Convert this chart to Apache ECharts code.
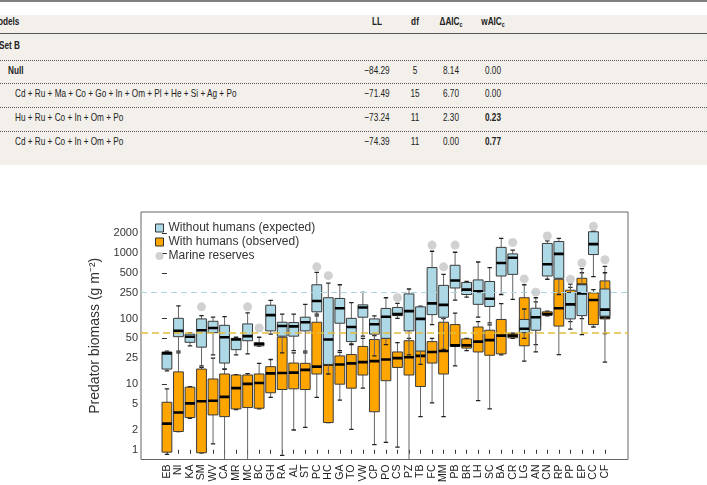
<!DOCTYPE html>
<html>
<head>
<meta charset="utf-8">
<script src="https://cdn.jsdelivr.net/npm/echarts@6/dist/echarts.min.js"></script>
<style>
  body { margin: 0; background: #fff; }
  #page { position: relative; width: 707px; height: 485px; overflow: hidden; }
  #tbl { position: absolute; left: 0; top: 0; width: 707px; height: 170px;
         font-family: "Liberation Sans", Arial, sans-serif;
         font-size: 11px; color: #222; }
  #tbl .bg { position: absolute; left: 0; top: 15px; width: 707px; height: 150px; background: #f3f0eb; }
  #tbl .topline { position: absolute; left: 0; top: 0; width: 707px; height: 2px; background: #808080; }
  #tbl .rule { position: absolute; left: 0; width: 707px; height: 0; border-top: 1.5px solid #555; }
  #tbl .dots { position: absolute; left: 0; width: 707px; height: 0; border-top: 1px dotted #555; }
  #tbl .t { position: absolute; white-space: nowrap; line-height: 12px; transform-origin: left center; }
  #tbl .c { position: absolute; white-space: nowrap; line-height: 12px; width: 40px; text-align: center; transform-origin: center center; }
  #tbl b { font-weight: bold; }
  #tbl sub { font-size: 7px; vertical-align: -2px; }
  #chart { position: absolute; left: 0; top: 0; width: 707px; height: 485px; }
</style>
</head>
<body>
<div id="page">
  <div id="chart"></div>
  <div id="tbl"></div>
</div>
<script>
// table rows (model, LL, df, dAICc, wAICc)
const tableRows = [
  ["Null", "−84.29", "5", "8.14", "0.00"],
  ["Cd + Ru + Ma + Co + Go + In + Om + Pl + He + Si + Ag + Po", "−71.49", "15", "6.70", "0.00"],
  ["Hu + Ru + Co + In + Om + Po", "−73.24", "11", "2.30", "0.23"],
  ["Cd + Ru + Co + In + Om + Po", "−74.39", "11", "0.00", "0.77"]
];
const boldWeights = ["0.23", "0.77"];

// sites along the x axis
const sites = ["EB", "NI", "KA", "SM", "WV", "CA", "MR", "MC", "BC", "GH", "RA", "AL", "ST",
  "PC", "HC", "GA", "TO", "VW", "CP", "PO", "CS", "PZ", "TB", "FC", "MM", "PB", "BR", "LH",
  "SC", "BA", "CR", "LG", "AN", "CN", "RP", "PP", "EP", "CC", "CF"];

// without humans (expected): [min, q1, median, q3, max]
const expected = [
  [16, 17, 29.5, 31, 32], [32, 53, 65, 101, 156], [38.5, 43.5, 53, 58, 61],
  [19, 36.7, 66.5, 99, 111], [28, 61, 72, 91, 105], [17, 21, 52, 79, 107],
  [28, 33.6, 48, 50, 52], [29, 46, 54, 83, 122], [38, 38.5, 41, 43, 52],
  [58, 65, 113, 160, 190], [30, 54, 77, 88, 117], [32.5, 54, 76, 87, 117],
  [32, 65, 88, 105, 165], [117, 127, 186, 328, 506], [14.3, 20, 48, 208, 347],
  [32.6, 85, 144, 203, 328], [41, 44.6, 74.5, 101, 175], [54, 105, 148, 162, 252],
  [27, 58, 82, 99, 110], [40, 50, 107, 143, 208], [101, 111, 117, 148, 171],
  [28, 65, 130, 238, 283], [20, 32, 99, 151, 155], [81, 115, 171, 600, 1064],
  [34, 105, 162, 321, 473], [192, 293, 381, 650, 1028], [213, 233, 277, 356, 368],
  [105, 165, 261, 389, 730], [86, 153, 201, 368, 600], [233, 446, 705, 1220, 1675],
  [196, 473, 845, 970, 1110], [50, 61, 70, 97, 140], [31, 66.5, 105, 144, 208],
  [398, 446, 673, 1400, 1530], [233, 412, 970, 1497, 1675], [69, 99, 165, 250, 336],
  [57, 111, 241, 328, 580], [437, 947, 1365, 2110, 2150], [59, 109, 137, 283, 500]
];

// with humans (observed): [min, q1, median, q3, max]
const observed = [
  [0.85, 0.92, 2.5, 5.3, 8.5], [1.9, 1.9, 3.7, 15.4, 30], [3.0, 3.1, 5.1, 9.0, 9.2],
  [0.9, 0.9, 5.5, 17, 18], [1.23, 3.4, 5.6, 12, 25], [0.4, 3.2, 6.4, 14.3, 17],
  [4.1, 4.2, 8.7, 13.8, 14], [0.4, 4.4, 10.1, 13.8, 14.5], [4.2, 4.3, 10.4, 14.3, 20.8],
  [6.3, 7.4, 14.6, 18.5, 23.8], [0.82, 8.3, 14.8, 52, 55], [2.0, 8.5, 15, 21, 30],
  [2.2, 8.3, 16.5, 20.8, 30], [6.3, 14.3, 18.5, 88, 110], [2.6, 2.6, 20, 21, 24],
  [5.7, 10, 20, 27, 30.6], [2.05, 8.7, 20.8, 28.3, 40], [8.7, 13.8, 21.7, 37.6, 50],
  [1.2, 3.8, 22.5, 48, 55], [1.3, 11.3, 23.8, 50, 60], [1.1, 18, 25, 31, 43],
  [0.4, 13.8, 25.8, 46, 50], [3.2, 9.2, 27, 32.5, 40], [5.2, 21, 31, 44.6, 50],
  [3.2, 14.3, 32, 88, 100], [19, 37.6, 39, 81, 121], [32.5, 35.5, 39, 49, 50],
  [5.6, 31, 44.6, 74.5, 90], [4.2, 27.6, 47, 66.5, 80], [28, 29, 55, 97, 169],
  [50, 51, 55, 59, 60], [22.5, 38.5, 64, 208, 328], [40, 75, 95, 125, 180],
  [110, 113, 117, 127, 130], [28.3, 77, 144, 398, 420], [90, 150, 240, 271, 300],
  [100, 250, 328, 412, 500], [74.5, 81, 192, 247, 277], [21.7, 99, 105, 376, 628]
];

// marine reserves (null where none)
const reserves = [null, null, null, 151, null, null, null, 151, 72, null, null, null, null,
  615, 452, null, null, null, null, null, 208, null, null, 1320, 615, 1320, null, null,
  null, null, 1450, 403, 253, 1815, null, 398, 705, 2550, 790];

const yTicks = [1, 2, 5, 10, 25, 50, 100, 250, 500, 1000, 2000];
const refExpected = 250;
const refObserved = 61;

// ---- table ----
(function buildTable() {
  const el = document.getElementById("tbl");
  // the source table is set in a condensed face: squeeze the text horizontally
  const ctx = document.createElement("canvas").getContext("2d");
  ctx.font = '11px "Liberation Sans", Arial, sans-serif';
  const sx = 222 / ctx.measureText(tableRows[1][0]).width;
  const tf = ' style="transform:scaleX(' + sx.toFixed(3) + ');';
  let html = '<div class="topline"></div><div class="bg"></div>';
  const cols = [377, 415, 451, 493];
  html += '<div class="t"' + tf + 'left:-2px;top:15px"><b>odels</b></div>';
  html += '<div class="c"' + tf + 'left:' + (cols[0] - 20) + 'px;top:15px"><b>LL</b></div>';
  html += '<div class="c"' + tf + 'left:' + (cols[1] - 20) + 'px;top:15px"><b>df</b></div>';
  html += '<div class="c"' + tf + 'left:' + (cols[2] - 20) + 'px;top:15px"><b>ΔAIC<sub>c</sub></b></div>';
  html += '<div class="c"' + tf + 'left:' + (cols[3] - 20) + 'px;top:15px"><b>wAIC<sub>c</sub></b></div>';
  html += '<div class="rule" style="top:33px"></div>';
  html += '<div class="t"' + tf + 'left:-1px;top:39px"><b>Set B</b></div>';
  const rowY = [64, 87, 111, 135];
  const lineY = [60, 83, 107, 131];
  tableRows.forEach(function (r, i) {
    html += '<div class="dots" style="top:' + lineY[i] + 'px"></div>';
    const label = i === 0 ? "<b>" + r[0] + "</b>" : r[0];
    html += '<div class="t"' + tf + 'left:' + (i === 0 ? 8 : 15) + 'px;top:' + rowY[i] + 'px">' + label + "</div>";
    for (let k = 1; k < 5; k++) {
      let txt = r[k];
      if (k === 4 && boldWeights.indexOf(txt) >= 0) txt = "<b>" + txt + "</b>";
      html += '<div class="c"' + tf + 'left:' + (cols[k - 1] - 20) + 'px;top:' + rowY[i] + 'px">' + txt + "</div>";
    }
  });
  el.innerHTML = html;
})();

// ---- chart ----
const log10 = Math.log10;
function toLog(rows) {
  return rows.map(function (r, i) { return [i].concat(r.map(log10)); });
}

function renderBox(params, api) {
  const x = api.value(0);
  const pMin = api.coord([x, api.value(1)]);
  const pQ1 = api.coord([x, api.value(2)]);
  const pMed = api.coord([x, api.value(3)]);
  const pQ3 = api.coord([x, api.value(4)]);
  const pMax = api.coord([x, api.value(5)]);
  const w = api.size([0.85, 0])[0];
  const cx = pMed[0];
  const capW = w * 0.45;
  const style = api.style();
  return {
    type: "group",
    children: [
      { type: "line", shape: { x1: cx, y1: pMax[1], x2: cx, y2: pQ3[1] }, style: { stroke: "#666", lineWidth: 1 } },
      { type: "line", shape: { x1: cx, y1: pQ1[1], x2: cx, y2: pMin[1] }, style: { stroke: "#666", lineWidth: 1 } },
      { type: "line", shape: { x1: cx - capW / 2, y1: pMax[1], x2: cx + capW / 2, y2: pMax[1] }, style: { stroke: "#222", lineWidth: 1.3 } },
      { type: "line", shape: { x1: cx - capW / 2, y1: pMin[1], x2: cx + capW / 2, y2: pMin[1] }, style: { stroke: "#222", lineWidth: 1.3 } },
      { type: "rect", shape: { x: cx - w / 2, y: pQ3[1], width: w, height: pQ1[1] - pQ3[1] },
        style: { fill: style.fill, stroke: "#3a3a3a", lineWidth: 1 } },
      { type: "line", shape: { x1: cx - w / 2, y1: pMed[1], x2: cx + w / 2, y2: pMed[1] }, style: { stroke: "#000", lineWidth: 2.6 } }
    ]
  };
}

const chart = echarts.init(document.getElementById("chart"));
const siteIdx = sites.map(function (s, i) { return i; });

const option = {
  animation: false,
  textStyle: { fontFamily: "Liberation Sans, Arial, sans-serif" },
  grid: { left: 141, top: 212, width: 487, height: 254, show: true, borderColor: "#666", borderWidth: 1 },
  legend: {
    orient: "vertical", left: 150, top: 217, itemWidth: 8, itemHeight: 8, itemGap: 2,
    textStyle: { fontSize: 12, color: "#333" },
    data: [
      { name: "Without humans (expected)", icon: "rect", itemStyle: { color: "#add8e6", borderColor: "#333", borderWidth: 1 } },
      { name: "With humans (observed)", icon: "rect", itemStyle: { color: "#ffa500", borderColor: "#333", borderWidth: 1 } },
      { name: "Marine reserves", icon: "circle", itemStyle: { color: "#c6c6c6" } }
    ]
  },
  xAxis: {
    type: "value", min: -2.25, max: 40,
    axisLine: { show: false },
    splitLine: { show: false },
    axisTick: { show: true, customValues: siteIdx, length: 4, lineStyle: { color: "#333" } },
    axisLabel: {
      customValues: siteIdx, rotate: 90, margin: 5, fontSize: 10.5, color: "#222",
      formatter: function (v) { return sites[Math.round(v)]; }
    }
  },
  yAxis: {
    type: "value", min: -0.1486, max: 3.6256,
    name: "Predator biomass (g m⁻²)", nameLocation: "middle", nameGap: 28,
    nameTextStyle: { fontSize: 14, color: "#333" },
    axisLine: { show: false },
    splitLine: { show: false },
    axisTick: { show: true, customValues: yTicks.map(log10), length: 5, lineStyle: { color: "#333" } },
    axisLabel: {
      customValues: yTicks.map(log10), margin: 3, fontSize: 11, color: "#333",
      formatter: function (v) { return String(Math.round(Math.pow(10, v))); }
    }
  },
  series: [
    {
      name: "refs", type: "scatter", data: [], z: 1, silent: true,
      markLine: {
        silent: true, symbol: "none", label: { show: false },
        data: [
          { yAxis: log10(refExpected), lineStyle: { color: "#a9d6df", type: [6, 4], width: 1 } },
          { yAxis: log10(refObserved), lineStyle: { color: "#e3bd3c", type: [7, 4], width: 1.5 } }
        ]
      }
    },
    {
      name: "With humans (observed)", type: "custom", z: 2, clip: true,
      itemStyle: { color: "#ffa500" },
      renderItem: renderBox, data: toLog(observed)
    },
    {
      name: "Without humans (expected)", type: "custom", z: 3, clip: true,
      itemStyle: { color: "#add8e6" },
      renderItem: renderBox, data: toLog(expected)
    },
    {
      name: "Marine reserves", type: "scatter", z: 4, symbolSize: 9,
      itemStyle: { color: "#c6c6c6" },
      data: reserves.map(function (v, i) { return v === null ? null : [i, log10(v)]; }).filter(function (d) { return d; })
    }
  ]
};
chart.setOption(option);
</script>
</body>
</html>
